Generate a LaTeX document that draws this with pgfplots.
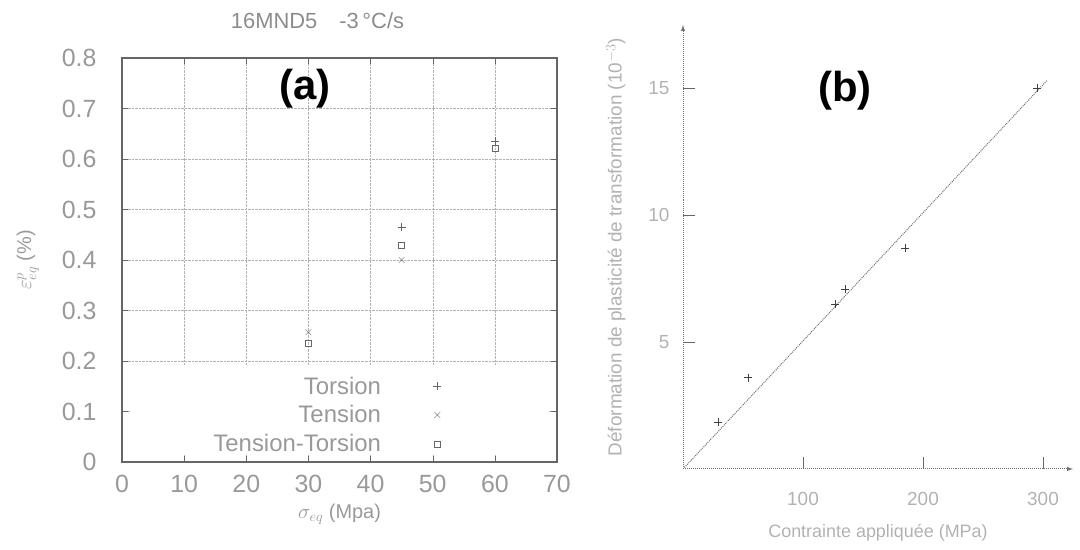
\documentclass[border=0pt]{standalone}
\usepackage{pgfplots}
\pgfplotsset{compat=1.18}
\usepackage{fontspec}
\setmainfont{Liberation Sans}
\begin{document}
\begin{tikzpicture}
\path[use as bounding box] (0,0) rectangle (1080bp,550bp);
% ---------------- panel (a) ----------------
\begin{axis}[
  at={(122bp,88bp)}, anchor=south west,
  scale only axis, width=435bp, height=404bp,
  xmin=0, xmax=70, ymin=0, ymax=0.8,
  xtick={0,10,20,30,40,50,60,70},
  ytick={0,0.1,0.2,0.3,0.4,0.5,0.6,0.7,0.8},
  yticklabels={0,0.1,0.2,0.3,0.4,0.5,0.6,0.7,0.8},
  /pgf/number format/assume math mode=true,
  tick align=inside, major tick length=6bp,
  tick style={black!60},
  grid=major, grid style={densely dotted, black!30},
  axis line style={black!60, line width=1.2bp},
  tick label style={font=\fontsize{25}{27}\selectfont, text=black!40},
  xticklabel style={yshift=-10bp},
  yticklabel style={xshift=-22bp},
  title={16MND5\quad -3\,°C/s},
  title style={font=\fontsize{22}{24}\selectfont, text=black!45, yshift=20bp, xshift=-22bp},
  xlabel={$\sigma_{eq}$ (Mpa)},
  xlabel style={font=\fontsize{20}{22}\selectfont, text=black!40, yshift=-4bp},
  ylabel={$\varepsilon^{p}_{eq}$ (\%)},
  ylabel style={font=\fontsize{20}{22}\selectfont, text=black!40, yshift=16bp},
  legend plot pos=right,
  legend cell align=right,
  legend image code/.code={\path[draw=none,fill=none] (0bp,-1bp) rectangle (110bp,1bp);
     \draw[#1,only marks] plot coordinates {(55bp,0bp)};},
  legend style={at={(axis cs:59.8,0.012)}, anchor=south east, draw=none, fill=none,
    font=\fontsize{24}{26}\selectfont, text=black!40,
    row sep=7bp, inner sep=1bp, nodes={inner sep=1.5bp}},
]
\fill[white] (axis cs:1.3,0.014) rectangle (axis cs:68.7,0.193);
\addplot[only marks, mark=+, mark size=4bp, black!60] coordinates {(45,0.465) (60,0.636)};
\addlegendentry{Torsion}
\addplot[only marks, mark=x, mark size=4bp, black!60] coordinates {(30,0.257) (45,0.400)};
\addlegendentry{Tension}
\addplot[only marks, mark=square, mark size=3bp, black!60] coordinates {(30,0.235) (45,0.430) (60,0.622)};
\addlegendentry{Tension-Torsion}
\node[font=\bfseries\fontsize{42}{44}\selectfont] at (axis cs:29.5,0.74) {(a)};
\end{axis}
% ---------------- panel (b) ----------------
\begin{axis}[
  at={(683bp,81bp)}, anchor=south west,
  scale only axis, width=390bp, height=444bp,
  xmin=0, xmax=325, ymin=0, ymax=17.5,
  axis lines=left,
  axis line style={black!55, densely dotted, line width=1bp, -latex},
  xtick={100,200,300}, ytick={5,10,15},
  /pgf/number format/assume math mode=true,
  tick align=inside, major tick length=12bp,
  tick style={black!60, solid},
  tick label style={font=\fontsize{19}{21}\selectfont, text=black!30},
  xticklabel style={yshift=-20bp},
  yticklabel style={xshift=-10bp},
  xlabel={Contrainte appliquée (MPa)},
  xlabel style={font=\fontsize{18}{20}\selectfont, text=black!30, yshift=-12bp},
  ylabel={Déformation de plasticité de transformation (10$^{-3}$)},
  ylabel style={font=\fontsize{19}{21}\selectfont, text=black!30, yshift=16bp},
]
\addplot[densely dotted, black!55, line width=1bp] coordinates {(0,0) (303,15.3)};
\addplot[only marks, mark=+, mark size=4bp, black!75] coordinates {
  (29,1.85) (54,3.6) (127,6.5) (135,7.1) (185,8.7) (295,15.0)};
\node[font=\bfseries\fontsize{42}{44}\selectfont] at (axis cs:135,14.9) {(b)};
\end{axis}
\end{tikzpicture}
\end{document}
